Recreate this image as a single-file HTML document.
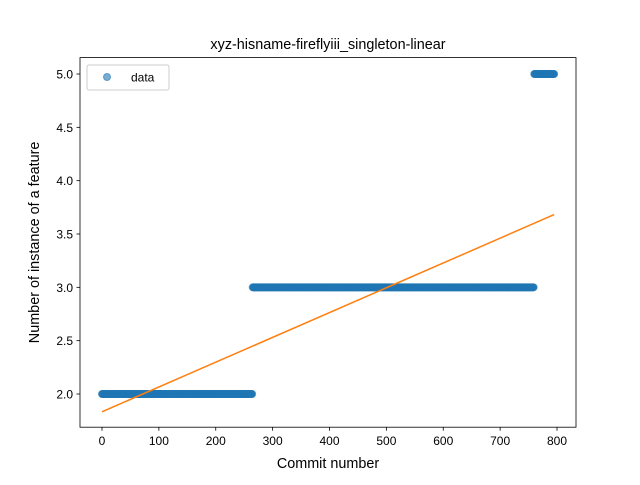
<!DOCTYPE html>
<html><head><meta charset="utf-8"><style>
body{margin:0;background:#fff;}
svg{font-family:"Liberation Sans","DejaVu Sans",sans-serif;}
</style></head><body>
<svg id="chart" width="640" height="480" xmlns="http://www.w3.org/2000/svg">
<rect width="640" height="480" fill="#fff"/>
<text x="328" y="49" font-size="14.4" text-anchor="middle">xyz-hisname-fireflyiii_singleton-linear</text>
<g id="marks"></g>
<rect x="80" y="57.6" width="496" height="369.6" fill="none" stroke="#000" stroke-width="0.8"/>
<g id="xticks"></g><g id="yticks"></g>
<text x="328" y="468" font-size="14.4" text-anchor="middle">Commit number</text>
<text transform="translate(39,242.4) rotate(-90)" font-size="14.4" text-anchor="middle">Number of instance of a feature</text>
<g>
<rect x="87" y="65" width="82" height="25" rx="2" fill="#fff" fill-opacity="0.8" stroke="#ccc" stroke-width="1"/>
<circle cx="107" cy="77" r="3.5" fill="#1f77b4" fill-opacity="0.6" stroke="#1f77b4" stroke-opacity="0.6"/>
<text x="131" y="81.5" font-size="12">data</text>
</g>
</svg>
<script>
const runStarts = [0, 265, 760];
const runEnds = [264, 759, 795];
const runLevels = [2, 3, 5];
const xTicks = [0, 100, 200, 300, 400, 500, 600, 700, 800];
const yTicks = [2.0, 2.5, 3.0, 3.5, 4.0, 4.5, 5.0];
const yTickLabels = ["2.0","2.5","3.0","3.5","4.0","4.5","5.0"];

const NS="http://www.w3.org/2000/svg";
function xs(v){return 102+v*(455/800);}
function ys(v){return 394-(v-2)*(320/3);}
function mk(tag,attrs,parent){const e=document.createElementNS(NS,tag);for(const k in attrs)e.setAttribute(k,attrs[k]);parent.appendChild(e);return e;}
const marks=document.getElementById('marks');
const px=[],py=[];
for(let r=0;r<runStarts.length;r++){for(let i=runStarts[r];i<=runEnds[r];i++){px.push(i);py.push(runLevels[r]);}}
for(let i=0;i<px.length;i++){
  const c=mk('circle',{cx:xs(px[i]),cy:ys(py[i]),r:3.5,fill:'#1f77b4','fill-opacity':0.6,stroke:'#1f77b4','stroke-opacity':0.6,'stroke-width':1},marks);
  
  
}
const n=px.length;let sx=0,sy=0,sxx=0,sxy=0;
for(let i=0;i<n;i++){sx+=px[i];sy+=py[i];sxx+=px[i]*px[i];sxy+=px[i]*py[i];}
const slope=(n*sxy-sx*sy)/(n*sxx-sx*sx),icpt=(sy-slope*sx)/n;
const x0=px[0],x1=px[n-1];
const fl=mk('line',{x1:xs(x0),y1:ys(icpt+slope*x0),x2:xs(x1),y2:ys(icpt+slope*x1),stroke:'#ff7f0e','stroke-width':1.5},marks);


const xt=document.getElementById('xticks');
xTicks.forEach(v=>{
  const l=mk('line',{x1:xs(v),x2:xs(v),y1:427.2,y2:430.7,stroke:'#000','stroke-width':0.8},xt);
  
  
  const t=mk('text',{x:xs(v),y:445,'font-size':12,'text-anchor':'middle'},xt);t.textContent=String(v);
  
  
});
const yt=document.getElementById('yticks');
yTicks.forEach((v,i)=>{
  const l=mk('line',{x1:76.5,x2:80,y1:ys(v),y2:ys(v),stroke:'#000','stroke-width':0.8},yt);
  
  
  const t=mk('text',{x:73,y:ys(v)+4.5,'font-size':12,'text-anchor':'end'},yt);t.textContent=yTickLabels[i];
  
  
});
</script>
</body></html>
